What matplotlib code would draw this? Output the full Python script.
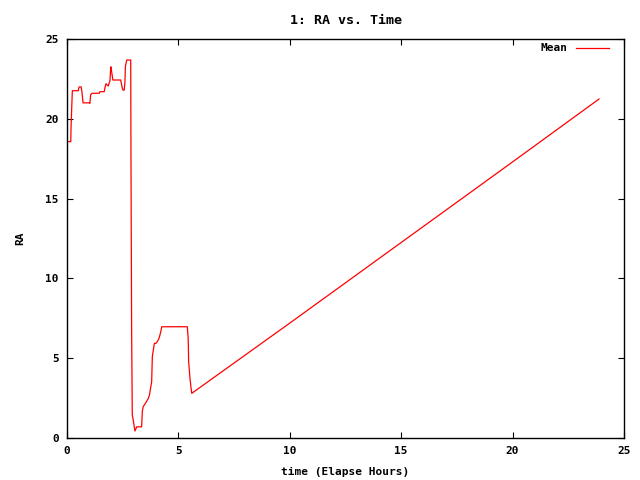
import matplotlib
matplotlib.use('Agg')
import matplotlib.pyplot as plt

# elapsed hours and mean RA
hours = [0.00, 0.17, 0.18, 0.22, 0.24, 0.51, 0.52, 0.55, 0.63, 0.66, 0.70, 0.72,
         0.99, 1.03, 1.06, 1.12, 1.45, 1.48, 1.67, 1.71, 1.75, 1.85, 1.93, 1.95,
         1.97, 2.02, 2.06, 2.41, 2.47, 2.51, 2.57, 2.60, 2.62, 2.68, 2.86, 2.87,
         2.90, 2.93, 2.96, 3.02, 3.05, 3.13, 3.35, 3.38, 3.42, 3.53, 3.65, 3.70,
         3.80, 3.83, 3.92, 3.99, 4.05, 4.13, 4.21, 4.25, 5.40, 5.44, 5.46, 5.52,
         5.57, 5.60, 10.0, 15.0, 20.0, 23.88]
ra = [18.57, 18.57, 19.4, 21.0, 21.76, 21.76, 21.9, 22.0, 22.0, 21.8, 21.3, 21.0,
      21.0, 20.97, 21.5, 21.6, 21.6, 21.7, 21.7, 22.0, 22.2, 22.05, 22.4, 22.95,
      23.26, 22.8, 22.43, 22.43, 22.0, 21.8, 21.8, 22.3, 23.26, 23.68, 23.68, 18.2,
      6.97, 1.44, 1.23, 0.7, 0.44, 0.7, 0.7, 1.65, 1.96, 2.2, 2.48, 2.69,
      3.53, 5.1, 5.93, 5.93, 6.03, 6.24, 6.66, 6.97, 6.97, 6.24, 4.78, 3.74,
      3.1, 2.8, 7.2, 12.25, 17.3, 21.24]

xticks = [0, 5, 10, 15, 20, 25]
yticks = [0, 5, 10, 15, 20, 25]

plt.rcParams['font.family'] = 'DejaVu Sans Mono'
plt.rcParams['font.weight'] = 'bold'
plt.rcParams['font.size'] = 8

fig = plt.figure(figsize=(6.4, 4.8), dpi=100)
ax = fig.add_axes([67 / 640, 1 - 438 / 480, 557 / 640, 399 / 480])
ax.plot(hours, ra, color='#ff0000', lw=0.9, label='Mean')

ax.set_xlim(0, 25)
ax.set_ylim(0, 25)
ax.set_xticks(xticks)
ax.set_yticks(yticks)
ax.tick_params(direction='in', length=4, width=0.8, top=True, right=True, pad=6)
for s in ax.spines.values():
    s.set_linewidth(1)

ax.set_title('1: RA vs. Time', fontweight='bold', pad=11)
ax.set_xlabel('time (Elapse Hours)', fontweight='bold', labelpad=8)
ax.set_ylabel('RA', fontweight='bold', labelpad=14)

ax.legend(loc='upper right', bbox_to_anchor=(0.981, 1.0), borderaxespad=0,
          frameon=False, markerfirst=False, handlelength=3.0, handletextpad=0.7)

plt.savefig('out.png', dpi=100)
